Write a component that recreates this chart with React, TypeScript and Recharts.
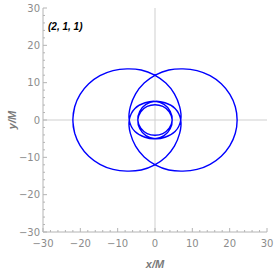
import React from 'react';
import { LineChart, Line, XAxis, YAxis, ReferenceLine } from 'recharts';

// orbit: leaf around the left apoapsis, whirl, then the right leaf.
// first point of leaf one and last point of leaf two overlap the seam at (-22, 0)
const leafOneX = [-21.51, -22, -21.51, -20.06, -17.75, -14.75, -11.25, -7.5, -3.7, -0.2, 2.9, 5.2, 6.6, 6.9, 5.37, 2.67, 0, -2.43, -4.07, -4.6, -3.81, -2.1, 0, 2.1, 3.81, 4.6, 4.07, 2.43, 0, -2.67, -5.37, -6.9, -6.6, -5.2, -2.9, 0.2, 3.7, 7.5, 11.25, 14.75, 17.75, 20.06, 21.51, 22];
const leafOneY = [3.55, 0, -3.55, -6.85, -9.69, -11.86, -13.23, -13.7, -13.4, -12.1, -9.9, -7.0, -3.6, 0, 3.1, 4.62, 5.0, 4.2, 2.35, 0, -2.2, -3.64, -4.1, -3.64, -2.2, 0, 2.35, 4.2, 5.0, 4.62, 3.1, 0, -3.6, -7.0, -9.9, -12.1, -13.4, -13.7, -13.23, -11.86, -9.69, -6.85, -3.55, 0];
const leafTwoX = [21.51, 20.06, 17.75, 14.75, 11.25, 7.5, 3.7, 0.2, -2.9, -5.2, -6.6, -6.9, -5.37, -2.67, 0, 2.43, 4.07, 4.6, 3.81, 2.1, 0, -2.1, -3.81, -4.6, -4.07, -2.43, 0, 2.67, 5.37, 6.9, 6.6, 5.2, 2.9, -0.2, -3.7, -7.5, -11.25, -14.75, -17.75, -20.06, -21.51, -22, -21.51];
const leafTwoY = [3.55, 6.85, 9.69, 11.86, 13.23, 13.7, 13.4, 12.1, 9.9, 7.0, 3.6, 0, -3.1, -4.62, -5.0, -4.2, -2.35, 0, 2.2, 3.64, 4.1, 3.64, 2.2, 0, -2.35, -4.2, -5.0, -4.62, -3.1, 0, 3.6, 7.0, 9.9, 12.1, 13.4, 13.7, 13.23, 11.86, 9.69, 6.85, 3.55, 0, -3.55];

const axisTicks = [-30, -28, -26, -24, -22, -20, -18, -16, -14, -12, -10, -8, -6, -4, -2, 0, 2, 4, 6, 8, 10, 12, 14, 16, 18, 20, 22, 24, 26, 28, 30];
const axisDomain = [-30, 30];
const plotTitle = '(2, 1, 1)';

const orbit = [
  ...leafOneX.map((x, i) => ({ x, y: leafOneY[i] })),
  ...leafTwoX.map((x, i) => ({ x, y: leafTwoY[i] })),
];

const FRAME = '#b4b4b4';
const TICK_TEXT = '#8c8c8c';
const LABEL_TEXT = '#7a7a7a';

const fmt = (v: number) => (v < 0 ? `\u2212${-v}` : `${v}`);

// ticks point inward like a Mathematica frame, labels only on bottom/left
const makeTick = (side: 'bottom' | 'top' | 'left' | 'right') => (props: any) => {
  const { x, y, payload } = props;
  const v = payload.value;
  const major = v % 10 === 0;
  const len = major ? 4 : 2;
  const textStyle = { fontFamily: 'DejaVu Sans', fontSize: 10, fill: TICK_TEXT };
  if (side === 'bottom') {
    return (
      <g>
        <line x1={x} y1={y} x2={x} y2={y - len} stroke={FRAME} />
        {major && (
          <text x={x} y={y + 11} textAnchor="middle" dominantBaseline="central" style={textStyle}>
            {fmt(v)}
          </text>
        )}
      </g>
    );
  }
  if (side === 'top') {
    return <line x1={x} y1={y} x2={x} y2={y + len} stroke={FRAME} />;
  }
  if (side === 'left') {
    return (
      <g>
        <line x1={x} y1={y} x2={x + len} y2={y} stroke={FRAME} />
        {major && (
          <text x={x - 3} y={y} textAnchor="end" dominantBaseline="central" style={textStyle}>
            {fmt(v)}
          </text>
        )}
      </g>
    );
  }
  return <line x1={x} y1={y} x2={x - len} y2={y} stroke={FRAME} />;
};

export default function App() {
  return (
    <div style={{ position: 'absolute', left: 0, top: 0, width: 275, height: 273 }}>
      <LineChart width={275} height={273} data={orbit} margin={{ top: 8, right: 8, bottom: 0, left: 0 }}>
        <XAxis
          xAxisId="b"
          dataKey="x"
          type="number"
          domain={axisDomain}
          ticks={axisTicks}
          interval={0}
          allowDataOverflow
          height={41}
          tickSize={0}
          tickMargin={0}
          tickLine={false}
          axisLine={{ stroke: FRAME }}
          tick={makeTick('bottom')}
          label={{
            value: 'x/M',
            position: 'insideBottom',
            offset: 5,
            style: { fontFamily: 'Liberation Sans', fontSize: 11, fontStyle: 'italic', fontWeight: 'bold', fill: LABEL_TEXT },
          }}
        />
        <XAxis
          xAxisId="t"
          dataKey="x"
          type="number"
          orientation="top"
          domain={axisDomain}
          ticks={axisTicks}
          interval={0}
          allowDataOverflow
          height={0}
          tickSize={0}
          tickMargin={0}
          tickLine={false}
          axisLine={{ stroke: FRAME }}
          tick={makeTick('top')}
        />
        <YAxis
          yAxisId="l"
          type="number"
          domain={axisDomain}
          ticks={axisTicks}
          interval={0}
          allowDataOverflow
          width={43}
          tickSize={0}
          tickMargin={0}
          tickLine={false}
          axisLine={{ stroke: FRAME }}
          tick={makeTick('left')}
          label={{
            value: 'y/M',
            angle: -90,
            position: 'insideLeft',
            offset: 12,
            style: { textAnchor: 'middle', fontFamily: 'Liberation Sans', fontSize: 11, fontStyle: 'italic', fontWeight: 'bold', fill: LABEL_TEXT },
          }}
        />
        <YAxis
          yAxisId="r"
          type="number"
          orientation="right"
          domain={axisDomain}
          ticks={axisTicks}
          interval={0}
          allowDataOverflow
          width={0}
          tickSize={0}
          tickMargin={0}
          tickLine={false}
          axisLine={{ stroke: FRAME }}
          tick={makeTick('right')}
        />
        <ReferenceLine xAxisId="b" yAxisId="l" x={0} stroke="#cfcfcf" />
        <ReferenceLine xAxisId="b" yAxisId="l" y={0} stroke="#cfcfcf" />
        <Line
          xAxisId="b"
          yAxisId="l"
          dataKey="y"
          type="natural"
          stroke="#0000ff"
          strokeWidth={1.4}
          dot={false}
          activeDot={false}
          isAnimationActive={false}
        />
      </LineChart>
      <div
        style={{
          position: 'absolute',
          left: 48,
          top: 22,
          fontFamily: 'Liberation Sans',
          fontSize: 10,
          lineHeight: '10px',
          fontStyle: 'italic',
          fontWeight: 'bold',
          color: '#000',
          whiteSpace: 'nowrap',
        }}
      >
        {plotTitle}
      </div>
    </div>
  );
}
